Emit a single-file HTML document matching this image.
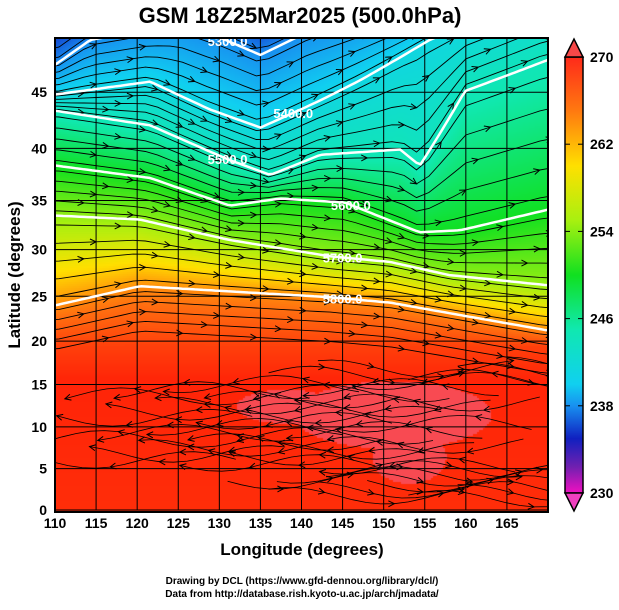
<!DOCTYPE html>
<html><head><meta charset="utf-8">
<style>
body{margin:0;background:#fff;width:619px;height:605px;overflow:hidden;font-family:"Liberation Sans",sans-serif}
</style></head>
<body>
<svg id="svg" width="619" height="605" xmlns="http://www.w3.org/2000/svg" font-family="Liberation Sans, sans-serif" font-weight="bold">
<defs>
<linearGradient id="cb" x1="0" y1="0" x2="0" y2="1">
<stop offset="0" stop-color="#ff2a1a"/><stop offset="0.125" stop-color="#ff7a10"/><stop offset="0.25" stop-color="#ffe000"/><stop offset="0.375" stop-color="#a8f010"/><stop offset="0.5" stop-color="#10e020"/><stop offset="0.625" stop-color="#10e8b0"/><stop offset="0.75" stop-color="#10d0f0"/><stop offset="0.8" stop-color="#1890f0"/><stop offset="0.875" stop-color="#1020c0"/><stop offset="0.94" stop-color="#7020b0"/><stop offset="1" stop-color="#f010c0"/>
</linearGradient>
<clipPath id="pc"><rect x="55" y="38" width="493" height="474"/></clipPath>
</defs>
<text x="300" y="23" font-size="22" text-anchor="middle">GSM 18Z25Mar2025 (500.0hPa)</text>
<foreignObject x="55" y="38" width="493" height="474"><canvas id="cv" width="493" height="474" xmlns="http://www.w3.org/1999/xhtml"></canvas></foreignObject>
<g id="grid" clip-path="url(#pc)"></g>
<g id="stream" clip-path="url(#pc)"></g>
<g id="cont" clip-path="url(#pc)"></g>
<rect x="55" y="38" width="493" height="474" fill="none" stroke="#000" stroke-width="2"/>
<g id="ticks"></g>
<text x="302" y="555" font-size="17" text-anchor="middle">Longitude (degrees)</text>
<text transform="translate(20,275) rotate(-90)" font-size="17" text-anchor="middle">Latitude  (degrees)</text>
<g>
<rect x="565" y="57" width="18" height="436" fill="url(#cb)" stroke="#000" stroke-width="1.5"/>
<path d="M565,57L574,39L583,57Z" fill="#f84848" stroke="#000" stroke-width="1.5"/>
<path d="M565,493L574,511L583,493Z" fill="#f040c0" stroke="#000" stroke-width="1.5"/>
</g>
<g id="cbl" font-size="14"></g>
<text x="302" y="584" font-size="10" text-anchor="middle">Drawing by DCL (https://www.gfd-dennou.org/library/dcl/)</text>
<text x="302" y="597" font-size="10" text-anchor="middle">Data from http://database.rish.kyoto-u.ac.jp/arch/jmadata/</text>
</svg>
<script>
const lonTicks=[110,115,120,125,130,135,140,145,150,155,160,165];
const latTicks=[0,5,10,15,20,25,30,35,40,45];
const cbTicks=[270,262,254,246,238,230];
// geopotential contour lines (lon -> lat)
const c5800Lon=[110,120.3,143.5,150.8,170], c5800Lat=[24.0,26.1,24.9,24.3,21.2];
const c5700Lon=[110,120.3,131.3,143.5,150.8,158,170], c5700Lat=[33.5,33.1,31.0,29.3,28.7,27.3,26.2];
const c5600Lon=[110,121.6,131.3,137.4,145.3,154.4,159.3,170], c5600Lat=[38.4,37.2,34.5,35.2,34.8,31.8,32.0,34.1];
const c5500Lon=[110,121.6,131.3,136.2,142.3,152,154.4,159.9,170], c5500Lat=[43.4,42.1,38.9,37.5,39.4,39.9,38.4,45.1,47.7];
const c5400Lon=[110,121.6,128.9,135,142.3,147.1,155.6,170], c5400Lat=[44.8,45.9,43.5,41.9,44.3,46.0,49.3,53];
const c5300Lon=[110,114.3,125,130,135,141,170], c5300Lat=[47.3,49.3,50.5,49.5,48.1,50,55];
// temperature (K) associated with each level, south→north
const levelTemps=[269.5,270,268.5,265,257.5,254,249.5,247,242,225];
const contLabels=["5800.0","5700.0","5600.0","5500.0","5400.0","5300.0"];
const labelLon=[145,145,146,131,139,131];

const L=55,R=548,T=38,B=510,S=474;
const merc=a=>Math.log(Math.tan(Math.PI/4+a*Math.PI/360));
const X=lon=>L+(lon-110)*(R-L)/60;
const Y=lat=>B-merc(lat)*S;
const NS="http://www.w3.org/2000/svg";
function el(t,a,p){const e=document.createElementNS(NS,t);for(const k in a)e.setAttribute(k,a[k]);p.appendChild(e);return e;}
function interp(xs,ys,v){if(v<=xs[0])return ys[0];for(let i=1;i<xs.length;i++)if(v<=xs[i])return ys[i-1]+(ys[i]-ys[i-1])*(v-xs[i-1])/(xs[i]-xs[i-1]);return ys[ys.length-1];}
const invY=y=>{const m=(B-y)/S;return Math.asin(Math.tanh(m))*180/Math.PI;};
const contours=[[c5800Lon,c5800Lat],[c5700Lon,c5700Lat],[c5600Lon,c5600Lat],[c5500Lon,c5500Lat],[c5400Lon,c5400Lat],[c5300Lon,c5300Lat]];
const cT=[230,234,238,242,246,250,254,258,262,266,270,271];
const cC=[[240,16,192],[112,32,176],[16,32,192],[24,144,240],[16,208,240],[16,232,176],[16,224,32],[168,240,16],[255,224,0],[255,110,16],[255,36,8],[255,30,0]];
function col(t){let i=0;while(i<cT.length-2&&t>cT[i+1])i++;let f=(t-cT[i])/(cT[i+1]-cT[i]);f=Math.max(0,Math.min(1,f));return cC[i].map((c,k)=>Math.round(c+(cC[i+1][k]-c)*f));}
function inPatch(lon,lat){
 const a=((lon-151)/12)**2+((lat-11.5)/4)**2<1;
 const b=((lon-153)/4.5)**2+((lat-6.5)/3.2)**2<1;
 const c=((lon-138)/6)**2+((lat-12.5)/2)**2<1;
 return a||b||c;
}
const ctx=document.getElementById('cv').getContext('2d');
for(let px=0;px<493;px+=2){
 const lon=110+px*60/493;
 const lats=[0,15.5,19.5].concat(contours.map(c=>interp(c[0],c[1],lon)));
 lats.push(Math.max(lats[lats.length-1]+8,62));
 for(let py=0;py<474;py+=2){
  const lat=invY(T+py);
  let t=interp(lats,levelTemps,lat);
  let c=col(t);
  if(inPatch(lon,lat)) c=[248,74,82];
  ctx.fillStyle=`rgb(${c[0]},${c[1]},${c[2]})`;
  ctx.fillRect(px,py,2,2);
 }
}
const g=document.getElementById('grid');
lonTicks.forEach(v=>{const l=el('line',{x1:X(v),x2:X(v),y1:T,y2:B,stroke:'#000','stroke-width':1},g);});
latTicks.forEach(v=>{const l=el('line',{x1:L,x2:R,y1:Y(v),y2:Y(v),stroke:'#000','stroke-width':1},g);});
const tk=document.getElementById('ticks');
lonTicks.forEach(v=>{const t=el('text',{x:X(v),y:528,'font-size':14,'text-anchor':'middle'},tk);t.textContent=v;});
latTicks.forEach(v=>{const t=el('text',{x:47,y:Y(v)+5,'font-size':14,'text-anchor':'end'},tk);t.textContent=v;});
const cbl=document.getElementById('cbl');
cbTicks.forEach(v=>{const y=57+(270-v)/40*436;const t=el('text',{x:590,y:y+5},cbl);t.textContent=v;el('line',{x1:565,x2:570,y1:y,y2:y,stroke:'#000'},cbl);el('line',{x1:578,x2:583,y1:y,y2:y,stroke:'#000'},cbl);});
const st=document.getElementById('stream');
function flowLat(lon,f){
 const i=Math.min(4,Math.floor(f)),w=f-i;
 return interp(contours[i][0],contours[i][1],lon)*(1-w)+interp(contours[i+1][0],contours[i+1][1],lon)*w;
}
function arrow(a,b){const ang=Math.atan2(b[1]-a[1],b[0]-a[0]);const c=Math.cos(ang),s=Math.sin(ang);
 el('path',{d:`M${b[0]-6*c+3*s},${b[1]-6*s-3*c}L${b[0]},${b[1]}L${b[0]-6*c-3*s},${b[1]-6*s+3*c}`,fill:'none',stroke:'#000','stroke-width':1},st);}
for(let f=-0.9;f<=5.6;f+=0.2){
 const pts=[];
 for(let lon=109;lon<=171;lon+=1.5){
  let lat;
  if(f<0) lat=interp(contours[0][0],contours[0][1],lon)+f*5.5;
  else if(f>5) lat=interp(contours[5][0],contours[5][1],lon)+(f-5)*4;
  else lat=flowLat(lon,f);
  pts.push([X(lon),Y(lat)]);
 }
 let d='';pts.forEach((p,i)=>d+=(i?'L':'M')+p[0].toFixed(1)+','+p[1].toFixed(1));
 const p=el('path',{d,fill:'none',stroke:'#000','stroke-width':0.9},st);
 
 
 const off=Math.floor((f*37)%6+6)%6;
 for(let i=3+off;i<pts.length;i+=6)arrow(pts[i-1],pts[i]);
}
for(let k=0;k<46;k++){
 const lat0=1+k*0.36, lon0=170-((k*17)%40);
 const dir=(lat0>5&&lat0<15.5)?-1:1;
 const pts=[];
 for(let s=0;s<=14;s++){const lon=lon0+dir*s*1.7, lat=lat0+Math.sin((s+k)/2.2)*1.0;pts.push([X(lon),Y(lat)]);}
 let d='';pts.forEach((p,i)=>d+=(i?'L':'M')+p[0].toFixed(1)+','+p[1].toFixed(1));
 const p=el('path',{d,fill:'none',stroke:'#000','stroke-width':0.8},st);
 
 
 for(let i=4;i<pts.length;i+=5)arrow(pts[i-1],pts[i]);
}
const cg=document.getElementById('cont');
contours.forEach((c,i)=>{let d='';for(let lon=110;lon<=170;lon+=0.5){const lat=interp(c[0],c[1],lon);d+=(d?'L':'M')+X(lon).toFixed(1)+','+Y(lat).toFixed(1);}
 const p=el('path',{d,fill:'none',stroke:'#fff','stroke-width':2.5},cg);
 
 
 const lt=interp(c[0],c[1],labelLon[i]);
 const t=el('text',{x:X(labelLon[i]),y:Y(lt)+5,'font-size':13,fill:'#fff','text-anchor':'middle'},cg);
 t.textContent=contLabels[i];
 
 });
</script>
</body></html>
